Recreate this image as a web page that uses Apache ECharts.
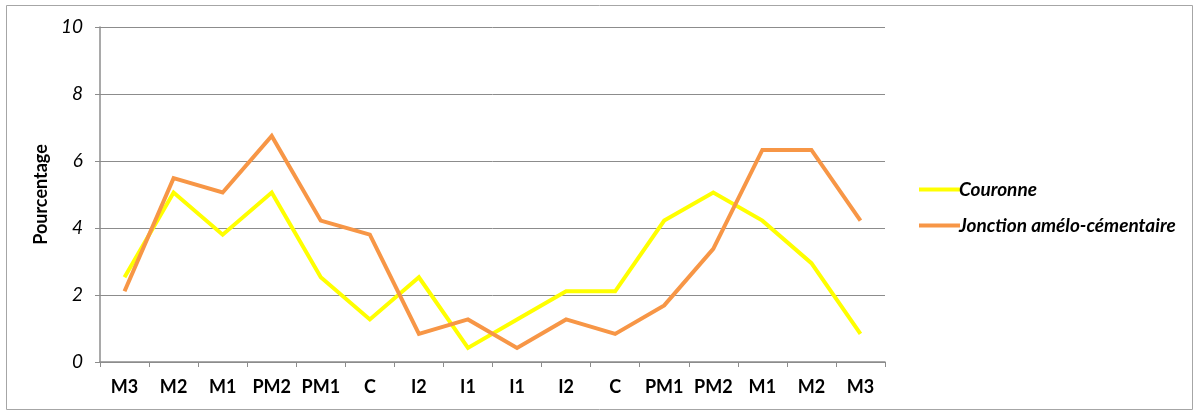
<!DOCTYPE html>
<html>
<head>
<meta charset="utf-8">
<script src="https://cdn.jsdelivr.net/npm/echarts@6/dist/echarts.min.js"></script>
<style>
  html, body { margin: 0; padding: 0; background: #fff; }
  #chart { width: 1200px; height: 412px; }
</style>
</head>
<body>
<div id="chart"></div>
<script>
// Teeth along the arch, from one side to the other
const categories = ['M3', 'M2', 'M1', 'PM2', 'PM1', 'C', 'I2', 'I1', 'I1', 'I2', 'C', 'PM1', 'PM2', 'M1', 'M2', 'M3'];

// Percentages per tooth
const couronne = [2.53, 5.06, 3.80, 5.06, 2.53, 1.27, 2.53, 0.42, 1.27, 2.11, 2.11, 4.22, 5.06, 4.22, 2.95, 0.84];
const jonction = [2.11, 5.49, 5.06, 6.75, 4.22, 3.80, 0.84, 1.27, 0.42, 1.27, 0.84, 1.69, 3.38, 6.33, 6.33, 4.22];

const seriesNames = ['Couronne', 'Jonction amélo-cémentaire'];
const yTicks = { min: 0, max: 10, interval: 2 };

const font = 'Lato, "Open Sans", sans-serif';
const axisGray = '#8c8c8c';

const chart = echarts.init(document.getElementById('chart'));
chart.setOption({
  animation: false,
  backgroundColor: '#fff',
  graphic: [{
    type: 'rect',
    shape: { x: 6.5, y: 5.5, width: 1186, height: 404 },
    style: { fill: 'none', stroke: '#a6a6a6', lineWidth: 1 },
    silent: true
  }],
  grid: { left: 100, right: 315, top: 27, bottom: 50, containLabel: false },
  legend: {
    orient: 'vertical',
    left: 914,
    top: 175,
    itemGap: 17,
    itemWidth: 41,
    itemHeight: 4,
    icon: 'rect',
    textStyle: { fontFamily: font, fontSize: 19, fontStyle: 'italic', fontWeight: 'bold', color: '#000', padding: [0, 0, 0, -6] },
    data: seriesNames
  },
  xAxis: {
    type: 'category',
    data: categories,
    boundaryGap: true,
    axisLine: { lineStyle: { color: axisGray, width: 1.5 } },
    axisTick: { show: true, length: 5, lineStyle: { color: axisGray } },
    axisLabel: { fontFamily: font, fontSize: 18, fontWeight: 'bold', color: '#000', margin: 16, interval: 0 }
  },
  yAxis: {
    type: 'value',
    min: yTicks.min,
    max: yTicks.max,
    interval: yTicks.interval,
    name: 'Pourcentage',
    nameLocation: 'middle',
    nameGap: 44,
    nameTextStyle: { fontFamily: font, fontSize: 18, fontWeight: 'bold', color: '#000' },
    axisLine: { show: true, lineStyle: { color: axisGray, width: 1.5 } },
    axisTick: { show: true, length: 5, lineStyle: { color: axisGray } },
    axisLabel: { fontFamily: font, fontSize: 19, fontStyle: 'italic', color: '#000', margin: 17 },
    splitLine: { show: true, lineStyle: { color: '#8c8c8c', width: 1 } }
  },
  series: [
    {
      name: seriesNames[0],
      type: 'line',
      data: couronne,
      symbol: 'none',
      lineStyle: { color: '#ffff00', width: 4, join: 'miter' },
      itemStyle: { color: '#ffff00' }
    },
    {
      name: seriesNames[1],
      type: 'line',
      data: jonction,
      symbol: 'none',
      lineStyle: { color: '#f79646', width: 4, join: 'miter' },
      itemStyle: { color: '#f79646' }
    }
  ]
});
</script>
</body>
</html>
